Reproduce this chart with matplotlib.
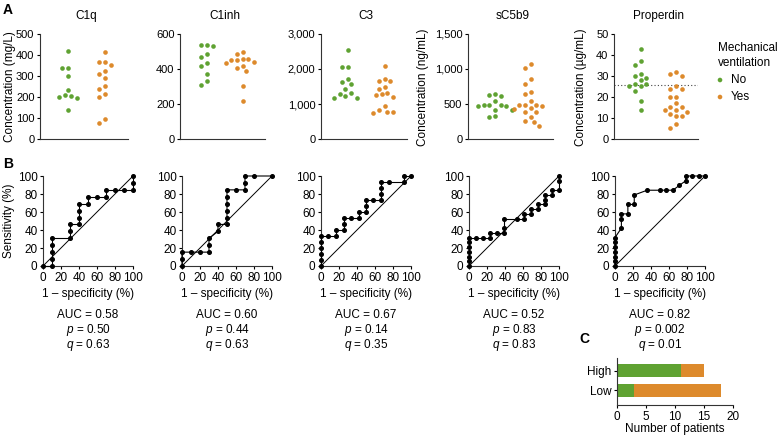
import numpy as np
import matplotlib
matplotlib.use("Agg")
import matplotlib.pyplot as plt
from matplotlib.ticker import FuncFormatter

plt.rcParams['font.family'] = ['Liberation Sans', 'DejaVu Sans']
plt.rcParams['mathtext.fontset'] = 'custom'
plt.rcParams['mathtext.rm'] = 'Liberation Sans'
plt.rcParams['mathtext.it'] = 'Liberation Sans:italic'
plt.rcParams['font.size'] = 8
plt.rcParams['axes.linewidth'] = 0.8
plt.rcParams['xtick.major.width'] = 0.8
plt.rcParams['ytick.major.width'] = 0.8
plt.rcParams['xtick.major.size'] = 2.5
plt.rcParams['ytick.major.size'] = 2.5
plt.rcParams['xtick.major.pad'] = 1.5
plt.rcParams['ytick.major.pad'] = 1.5
plt.rcParams['axes.edgecolor'] = '#333333'

GREEN = '#5fa232'
ORANGE = '#dd8a2c'

# ---- data ----
markers = ["C1q", "C1inh", "C3", "sC5b9", "Properdin"]
units = ["Concentration (mg/L)", None, None, "Concentration (ng/mL)", "Concentration (\u00b5g/mL)"]

c1q_no = [420, 340, 340, 300, 235, 210, 205, 200, 195, 140]
c1q_yes = [415, 368, 365, 350, 325, 310, 290, 250, 240, 215, 200, 95, 75]
c1inh_no = [538, 538, 533, 487, 468, 434, 418, 369, 329, 306]
c1inh_yes = [495, 487, 459, 457, 449, 449, 441, 432, 418, 405, 388, 304, 216]
c3_no = [2552, 2067, 2067, 1724, 1619, 1562, 1429, 1314, 1295, 1219, 1181, 1171]
c3_yes = [2095, 1714, 1667, 1667, 1476, 1419, 1314, 1276, 1267, 1210, 933, 829, 771, 771, 752]
sc5b9_no = [640, 635, 610, 540, 490, 485, 480, 475, 470, 420, 415, 330, 310]
sc5b9_yes = [1075, 1020, 850, 780, 670, 640, 540, 490, 480, 480, 470, 440, 430, 380, 380,
             320, 250, 240, 180]
prop_no = [43, 37, 35, 31, 30, 29, 28, 26, 26, 25, 25, 23, 18, 14]
prop_yes = [32, 31, 30, 25, 24, 24, 20, 20, 17, 15, 15, 14, 14, 13, 12, 11, 11, 7, 5]
prop_cutoff = 25.5

no_groups = [c1q_no, c1inh_no, c3_no, sc5b9_no, prop_no]
yes_groups = [c1q_yes, c1inh_yes, c3_yes, sc5b9_yes, prop_yes]
y_max = [500, 600, 3000, 1500, 50]
y_ticks = [[0, 100, 200, 300, 400, 500], [0, 200, 400, 600], [0, 1000, 2000, 3000],
           [0, 500, 1000, 1500], [0, 10, 20, 30, 40, 50]]

# ROC curves (1 - specificity, sensitivity), in %
roc1_x = [0, 10, 10, 10, 10, 10, 30, 30, 30, 40, 40, 40, 40, 50, 50, 60, 70, 70, 80, 90, 100, 100, 100]
roc1_y = [0, 0, 7.7, 15.4, 23.1, 30.8, 30.8, 38.5, 46.2, 46.2, 53.8, 61.5, 69.2, 69.2, 76.9, 76.9,
          76.9, 84.6, 84.6, 84.6, 84.6, 92.3, 100]
roc2_x = [0, 0, 0, 10, 20, 30, 30, 30, 40, 40, 50, 50, 50, 50, 50, 50, 60, 70, 70, 70, 80, 100]
roc2_y = [0, 7.7, 15.4, 15.4, 15.4, 15.4, 23.1, 30.8, 38.5, 46.2, 46.2, 53.8, 61.5, 69.2, 76.9,
          84.6, 84.6, 84.6, 92.3, 100, 100, 100]
roc3_x = [0, 0, 0, 0, 0, 0, 8.3, 16.7, 16.7, 25, 25, 25, 33.3, 41.7, 41.7, 50, 50, 50, 58.3,
          66.7, 66.7, 66.7, 66.7, 75, 91.7, 91.7, 100]
roc3_y = [0, 6.7, 13.3, 20, 26.7, 33.3, 33.3, 33.3, 40, 40, 46.7, 53.3, 53.3, 53.3, 60, 60, 66.7,
          73.3, 73.3, 73.3, 80, 86.7, 93.3, 93.3, 93.3, 100, 100]
roc4_x = [0, 0, 0, 0, 0, 0, 0, 7.7, 15.4, 23.1, 23.1, 30.8, 38.5, 38.5, 38.5, 53.8, 61.5, 61.5,
          69.2, 69.2, 76.9, 76.9, 84.6, 84.6, 84.6, 92.3, 92.3, 100, 100, 100]
roc4_y = [0, 5.3, 10.5, 15.8, 21.1, 26.3, 31.6, 31.6, 31.6, 31.6, 36.8, 36.8, 36.8, 42.1, 52.6,
          52.6, 52.6, 57.9, 57.9, 63.2, 63.2, 68.4, 68.4, 73.7, 78.9, 78.9, 84.2, 84.2, 94.7, 100]
roc5_x = [0, 0, 0, 0, 0, 0, 0, 7.1, 7.1, 7.1, 14.3, 14.3, 21.4, 21.4, 35.7, 50, 57.1, 64.3,
          71.4, 78.6, 78.6, 85.7, 92.9, 100]
roc5_y = [0, 5.3, 10.5, 15.8, 21.1, 26.3, 31.6, 42.1, 52.6, 57.9, 57.9, 68.4, 68.4, 78.9, 84.2,
          84.2, 84.2, 84.2, 89.5, 94.7, 100, 100, 100, 100]
roc_x = [roc1_x, roc2_x, roc3_x, roc4_x, roc5_x]
roc_y = [roc1_y, roc2_y, roc3_y, roc4_y, roc5_y]

auc = ["0.58", "0.60", "0.67", "0.52", "0.82"]
p_val = ["0.50", "0.44", "0.14", "0.83", "0.002"]
q_val = ["0.63", "0.63", "0.35", "0.83", "0.01"]

levels = ["Low", "High"]
patients_no = [3, 11]
patients_yes = [15, 4]

# ---- layout helpers ----
W, H = 777, 436
fig = plt.figure(figsize=(W / 100, H / 100), dpi=100)


def px_axes(l, t, r, b):
    return fig.add_axes([l / W, 1 - b / H, (r - l) / W, (b - t) / H])


def fig_text(x, y, s, **kw):
    kw.setdefault('ha', 'center')
    kw.setdefault('va', 'center')
    fig.text(x / W, 1 - y / H, s, **kw)


def swarm(vals, ymax, h_px=105.0, d=5.7, unit_px=36.0):
    # simple beeswarm: offsets in pixels, converted to data units
    y = np.asarray(vals, float) / ymax * h_px
    order = np.argsort(-y)
    cands = sorted(np.arange(-8, 9) * d / 2, key=lambda v: (abs(v), v))
    xs = np.zeros(len(y))
    placed = []
    for i in order:
        for off in cands:
            if all(np.hypot(off - px, y[i] - py) >= d for px, py in placed):
                break
        placed.append((off, y[i]))
        xs[i] = off / unit_px
    return xs


def comma(v, pos):
    return f"{int(v):,}"


# ---- panel A ----
a_left = [40, 180, 321, 468, 614]
a_right = [128, 265, 407, 553, 698]
label_x = [10, None, None, 423, 581]
for k in range(5):
    ax = px_axes(a_left[k], 34, a_right[k], 139)
    for pos, vals, col in [(0, no_groups[k], GREEN), (1, yes_groups[k], ORANGE)]:
        xs = pos + swarm(vals, y_max[k])
        ax.scatter(xs, vals, s=11, color=col, linewidths=0, clip_on=False, zorder=3)
    ax.set_xlim(-0.75, 1.62)
    ax.set_ylim(0, y_max[k])
    ax.set_yticks(y_ticks[k])
    ax.yaxis.set_major_formatter(FuncFormatter(comma))
    ax.set_xticks([])
    ax.spines[['top', 'right']].set_visible(False)
    if k == 4:
        ax.axhline(prop_cutoff, color='#444444', lw=0.8, ls=(0, (1, 2)))
    fig_text((a_left[k] + a_right[k]) / 2 + 2, 16, markers[k], fontsize=8.5)
    if units[k]:
        fig_text(label_x[k], 87, units[k], rotation=90, fontsize=8.5)

# legend
leg_ax = fig.add_axes([0, 0, 1, 1], facecolor='none')
leg_ax.set_xlim(0, W)
leg_ax.set_ylim(H, 0)
leg_ax.axis('off')
leg_ax.text(718, 48, "Mechanical", ha='left', va='center', fontsize=8.5)
leg_ax.text(718, 63, "ventilation", ha='left', va='center', fontsize=8.5)
leg_ax.scatter([720, 720], [80, 97], s=11, color=[GREEN, ORANGE], linewidths=0)
leg_ax.text(731, 80, "No", ha='left', va='center', fontsize=8.5)
leg_ax.text(731, 97, "Yes", ha='left', va='center', fontsize=8.5)

# ---- panel B ----
b_left = [43, 182, 321, 469, 615]
for k in range(5):
    ax = px_axes(b_left[k], 176, b_left[k] + 90, 266)
    ax.plot([0, 100], [0, 100], color='black', lw=0.7)
    ax.plot(roc_x[k], roc_y[k], color='black', lw=0.8, marker='o', ms=2.6, clip_on=False, zorder=3)
    ax.set_xlim(0, 100)
    ax.set_ylim(0, 100)
    ax.set_xticks([0, 20, 40, 60, 80, 100])
    ax.set_yticks([0, 20, 40, 60, 80, 100])
    ax.tick_params(labelsize=8.5)
    ax.spines[['top', 'right']].set_visible(False)
    ax.set_xlabel("1 \u2013 specificity (%)", fontsize=8.5, labelpad=3)
    cx = b_left[k] + 45
    fig_text(cx, 315, f"AUC = {auc[k]}", fontsize=8.5)
    fig_text(cx, 330, f"$\\it{{p}}$ = {p_val[k]}", fontsize=8.5)
    fig_text(cx, 345, f"$\\it{{q}}$ = {q_val[k]}", fontsize=8.5)
fig_text(9, 221, "Sensitivity (%)", rotation=90, fontsize=8.5)

# ---- panel C ----
ax = px_axes(617, 358, 733, 405)
ypos = np.arange(len(levels))
ax.barh(ypos, patients_no, height=0.65, color=GREEN)
ax.barh(ypos, patients_yes, left=patients_no, height=0.65, color=ORANGE)
ax.set_xlim(0, 20)
ax.set_ylim(-0.75, 1.65)
ax.set_xticks([0, 5, 10, 15, 20])
ax.set_yticks(ypos)
ax.set_yticklabels(levels)
ax.tick_params(labelsize=8.5)
ax.spines[['top', 'right']].set_visible(False)
ax.set_xlabel("Number of patients", fontsize=8.5, labelpad=0)

# panel letters
fig_text(8, 10, "A", fontsize=10, fontweight='bold')
fig_text(8, 164, "B", fontsize=10, fontweight='bold')
fig_text(584, 339, "C", fontsize=10, fontweight='bold')

fig.savefig("out.png", dpi=100)
